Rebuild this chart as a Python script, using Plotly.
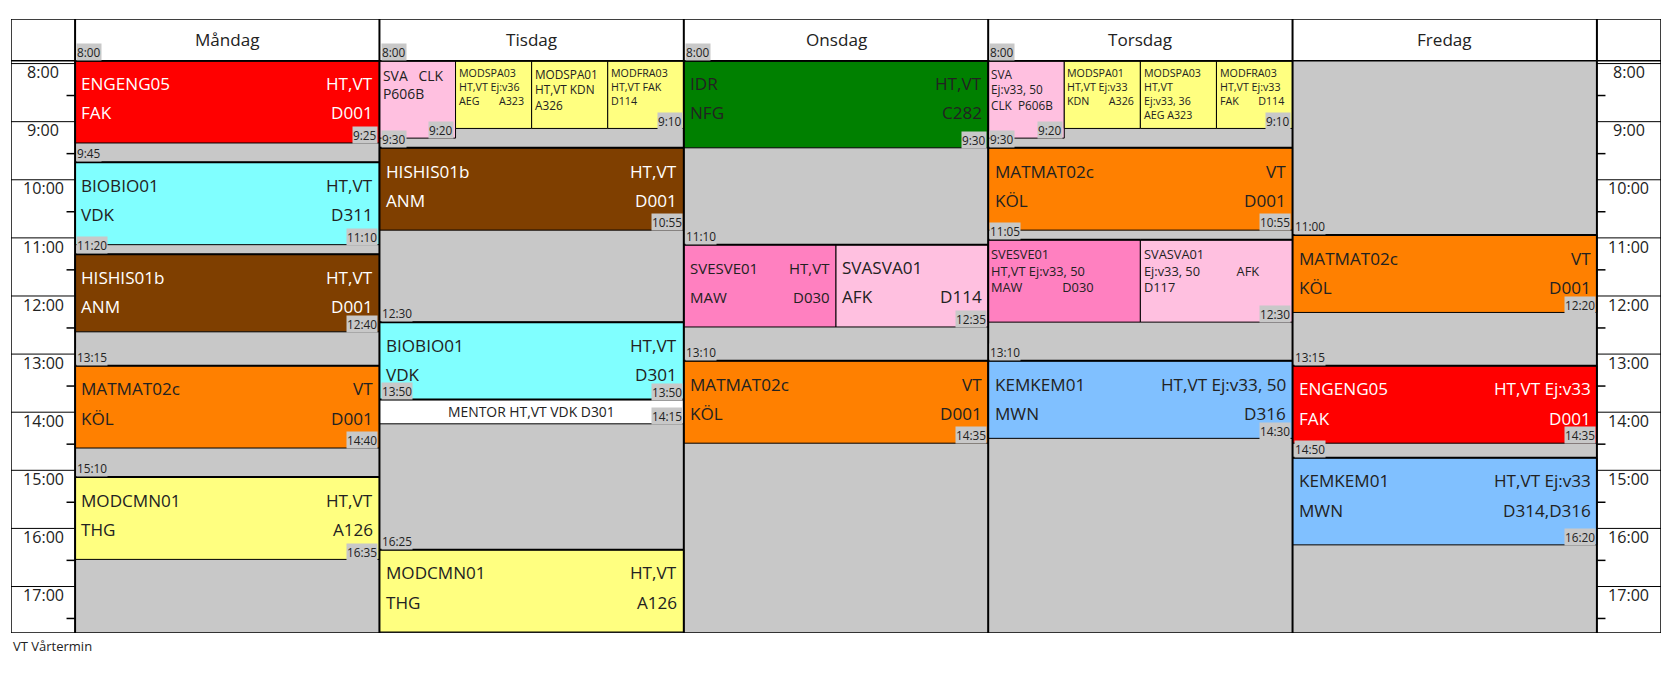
import plotly.graph_objects as go

DAYS = ["Måndag", "Tisdag", "Onsdag", "Torsdag", "Fredag"]
HOURS = ["8:00", "9:00", "10:00", "11:00", "12:00", "13:00", "14:00", "15:00", "16:00", "17:00"]

EV_DAY   = [0,0,0,0,0, 1,1,1,1,1,1,1,1, 2,2,2,2, 3,3,3,3,3,3,3,3, 4,4,4]
EV_START = ["8:00","9:45","11:20","13:15","15:10",
            "8:00","8:00","8:00","8:00","9:30","12:30","13:50","16:25",
            "8:00","11:10","11:10","13:10",
            "8:00","8:00","8:00","8:00","9:30","11:05","11:05","13:10",
            "11:00","13:15","14:50"]
EV_END   = ["9:25","11:10","12:40","14:40","16:35",
            "9:20","9:10","9:10","9:10","10:55","13:50","14:15","17:50",
            "9:30","12:35","12:35","14:35",
            "9:20","9:10","9:10","9:10","10:55","12:30","12:30","14:30",
            "12:20","14:35","16:20"]
EV_SUB   = [0,0,0,0,0, 0,1,2,3,0,0,0,0, 0,0,1,0, 0,1,2,3,0,0,1,0, 0,0,0]
EV_NSUB  = [1,1,1,1,1, 4,4,4,4,1,1,1,1, 1,2,2,1, 4,4,4,4,1,2,2,1, 1,1,1]
EV_COLOR = ["#FF0000","#80FFFF","#7F3F00","#FF8000","#FFFF80",
            "#FFC0E0","#FFFF80","#FFFF80","#FFFF80","#7F3F00","#80FFFF","#FFFFFF","#FFFF80",
            "#008000","#FF80C0","#FFC0E0","#FF8000",
            "#FFC0E0","#FFFF80","#FFFF80","#FFFF80","#FF8000","#FF80C0","#FFC0E0","#80C0FF",
            "#FF8000","#FF0000","#80C0FF"]
EV_L1 = ["ENGENG05","BIOBIO01","HISHIS01b","MATMAT02c","MODCMN01",
         "","","","","HISHIS01b","BIOBIO01","","MODCMN01",
         "IDR","SVESVE01","SVASVA01","MATMAT02c",
         "","","","","MATMAT02c","","","KEMKEM01",
         "MATMAT02c","ENGENG05","KEMKEM01"]
EV_R1 = ["HT,VT","HT,VT","HT,VT","VT","HT,VT",
         "","","","","HT,VT","HT,VT","","HT,VT",
         "HT,VT","HT,VT","","VT",
         "","","","","VT","","","HT,VT Ej:v33, 50",
         "VT","HT,VT Ej:v33","HT,VT Ej:v33"]
EV_L2 = ["FAK","VDK","ANM","KÖL","THG",
         "","","","","ANM","VDK","","THG",
         "NFG","MAW","AFK","KÖL",
         "","","","","KÖL","","","MWN",
         "KÖL","FAK","MWN"]
EV_R2 = ["D001","D311","D001","D001","A126",
         "","","","","D001","D301","","A126",
         "C282","D030","D114","D001",
         "","","","","D001","","","D316",
         "D001","D001","D314,D316"]
EV_SMALL = ["","","","","",
            "SVA   CLK<br>P606B",
            "MODSPA03<br>HT,VT Ej:v36<br>AEG       A323",
            "MODSPA01<br>HT,VT KDN<br>A326",
            "MODFRA03<br>HT,VT FAK<br>D114",
            "","","MENTOR HT,VT VDK D301","",
            "","","","",
            "SVA<br>Ej:v33, 50<br>CLK  P606B",
            "MODSPA01<br>HT,VT Ej:v33<br>KDN       A326",
            "MODSPA03<br>HT,VT<br>Ej:v33, 36<br>AEG A323",
            "MODFRA03<br>HT,VT Ej:v33<br>FAK       D114",
            "","SVESVE01<br>HT,VT Ej:v33, 50<br>MAW            D030",
            "SVASVA01<br>Ej:v33, 50           AFK<br>D117","",
            "","",""]
EV_FONT = [16,16,16,16,16, 13,10,11,10,16,16,13,16, 16,14,16,16, 11,10,10,10,16,12,12,16, 16,16,16]
WHITE_TEXT = {"#FF0000", "#7F3F00"}
FS = 1.07  # font scale

def h(s):
    a, b = s.split(":")
    return int(a) + int(b) / 60

X0, TW, DW = 10, 60, 285
XD = X0 + TW
XR = XD + 5 * DW
XE = XR + TW
YTOP, YBOT = 7.283, 17.85
FONT = "Open Sans"

shapes, ann = [], []
def rect(x0, x1, y0, y1, fill, lw=1, lc="black"):
    shapes.append(dict(type="rect", xref="x", yref="y", x0=x0, x1=x1, y0=y0, y1=y1,
                       fillcolor=fill, line=dict(color=lc, width=lw), layer="above"))
def line(x0, x1, y0, y1, lw=1, c="black"):
    shapes.append(dict(type="line", xref="x", yref="y", x0=x0, x1=x1, y0=y0, y1=y1,
                       line=dict(color=c, width=lw), layer="above"))
def text(x, y, t, size=16, color="#222", xa="left", ya="middle", bg=None, align="left"):
    d = dict(x=x, y=y, xref="x", yref="y", text=t, showarrow=False, xanchor=xa, yanchor=ya,
             font=dict(family=FONT, size=round(size * FS, 1), color=color), align=align, borderpad=0)
    if bg:
        d["bgcolor"] = bg
    ann.append(d)

rect(XD, XR, 8.0, YBOT, "#C8C8C8", 0)
for xs in (X0, XR):
    for lab in HOURS:
        hv = h(lab)
        line(xs, xs + TW, hv + 0.05, hv + 0.05, 1)
        text(xs + TW / 2, hv + 0.2, lab, 15, "#222", xa="center")
        if xs == X0:
            line(XD - 8, XD, hv + 0.6, hv + 0.6, 1.5)
        else:
            line(XR, XR + 8, hv + 0.6, hv + 0.6, 1.5)

for i in range(len(EV_DAY)):
    s, e = h(EV_START[i]), h(EV_END[i])
    w = DW / EV_NSUB[i]
    x0 = XD + EV_DAY[i] * DW + EV_SUB[i] * w
    x1 = x0 + w
    col = EV_COLOR[i]
    rect(x0, x1, s, e, col, 1)
    line(x0, x1, s, s, 2)
    tc = "white" if col in WHITE_TEXT else "#222"
    fs = EV_FONT[i]
    if EV_SMALL[i]:
        if EV_SMALL[i].startswith("MENTOR"):
            text((x0 + x1) / 2, (s + e) / 2, EV_SMALL[i], fs, tc, xa="center")
        else:
            text(x0 + 2, s + 0.08, EV_SMALL[i], fs, tc, ya="top")
    else:
        text(x0 + 5, s + 0.4, EV_L1[i], fs, tc)
        text(x1 - 5, s + 0.4, EV_R1[i], fs, tc, xa="right")
        text(x0 + 5, s + 0.9, EV_L2[i], fs, tc)
        text(x1 - 5, s + 0.9, EV_R2[i], fs, tc, xa="right")
    if EV_SUB[i] == 0:
        text(x0 + 1, s, EV_START[i], 11, "#222", ya="bottom", bg="#C8C8C8")
    later = [j for j in range(len(EV_DAY)) if EV_DAY[j] == EV_DAY[i] and EV_START[j] == EV_START[i]
             and EV_SUB[j] > EV_SUB[i] and EV_END[j] == EV_END[i]]
    if not later:
        text(x1 - 1, e + 0.02, EV_END[i], 11, "#222", xa="right", ya="bottom", bg="#C8C8C8")

rect(X0, XE, YTOP, 8.0, "white", 0)
for d, name in enumerate(DAYS):
    text(XD + d * DW + DW / 2, (YTOP + 8.0) / 2, name, 16, "#222", xa="center")
line(X0, XE, 8.0, 8.0, 1.5)
for xv in [XD + k * DW for k in range(6)]:
    line(xv, xv, YTOP, YBOT, 2)
shapes.append(dict(type="rect", xref="x", yref="y", x0=X0, x1=XE, y0=YTOP, y1=YBOT,
                   line=dict(color="black", width=1.5), layer="above"))

fig = go.Figure()
fig.add_trace(go.Scatter(x=[X0, XE], y=[YTOP, YBOT], mode="markers", marker=dict(opacity=0),
                         hoverinfo="skip", showlegend=False))
fig.update_layout(width=1675, height=674, margin=dict(l=3, r=22, t=11, b=49),
                  plot_bgcolor="white", paper_bgcolor="white", shapes=shapes, annotations=ann,
                  showlegend=False)
fig.update_xaxes(range=[X0, XE], visible=False, fixedrange=True)
fig.update_yaxes(range=[YBOT, YTOP], visible=False, fixedrange=True)
fig.add_annotation(x=0, y=-0.003, xref="paper", yref="paper", text="VT Vårtermin", showarrow=False,
                   xanchor="left", yanchor="top", font=dict(family=FONT, size=13, color="#222"))
fig.write_html("out.html")
